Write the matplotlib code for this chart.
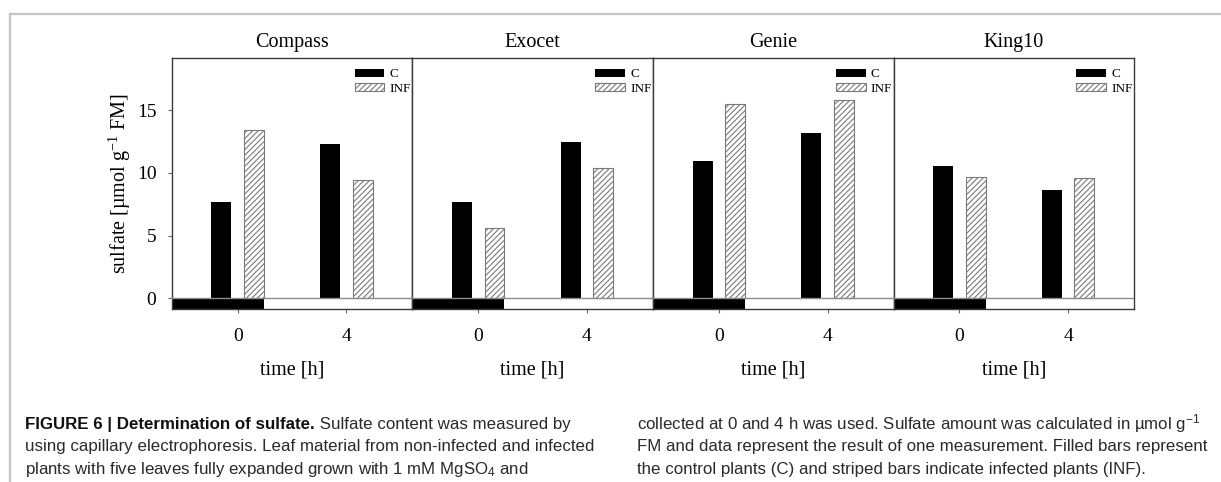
import matplotlib
matplotlib.use("Agg")
import matplotlib.pyplot as plt
from matplotlib import font_manager
from matplotlib.lines import Line2D

# values (sulfate, umol/g FM)
cultivars = ["Compass", "Exocet", "Genie", "King10"]
times = [0, 4]
control = [[7.7, 12.35], [7.7, 12.5], [10.95, 13.2], [10.55, 8.65]]
infected = [[13.45, 9.45], [5.65, 10.4], [15.5, 15.8], [9.7, 9.6]]
yticks = [0, 5, 10, 15]
legend_labels = ["C", "INF"]
y_label = "sulfate [µmol g$\\mathregular{^{-1}}$ FM]"
x_label = "time [h]"

caption_bold = "FIGURE 6 | Determination of sulfate."
caption_left = [
    " Sulfate content was measured by",
    "using capillary electrophoresis. Leaf material from non-infected and infected",
    "plants with five leaves fully expanded grown with 1 mM MgSO$\\mathregular{_4}$ and",
]
caption_right = [
    "collected at 0 and 4 h was used. Sulfate amount was calculated in µmol g$\\mathregular{^{-1}}$",
    "FM and data represent the result of one measurement. Filled bars represent",
    "the control plants (C) and striped bars indicate infected plants (INF).",
]

names = {f.name for f in font_manager.fontManager.ttflist}
serif = "Liberation Serif" if "Liberation Serif" in names else "DejaVu Serif"
sans = "Liberation Sans" if "Liberation Sans" in names else "DejaVu Sans"

plt.rcParams["font.family"] = serif
plt.rcParams["hatch.color"] = "#7a7a7a"
plt.rcParams["hatch.linewidth"] = 0.8

W, H = 1221, 482
fig = plt.figure(figsize=(W / 100, H / 100), dpi=100)

ax_left = 171.7 / W
ax_w = 240.6 / W
ax_bottom = 1 - 309 / H
ax_h = (309 - 58.3) / H

bar_w = 0.73
offset = 0.6
xlim = (-2.43, 6.43)
ylim = (-0.85, 19.15)
spine_col = "#3a3a3a"
fs = 14.5

for i, name in enumerate(cultivars):
    ax = fig.add_axes([ax_left + i * ax_w, ax_bottom, ax_w, ax_h])
    xc = [t - offset for t in times]
    xi = [t + offset for t in times]
    # odd black block under the baseline, as in the original
    ax.bar(xlim[0], ylim[0], width=(times[0] + offset + bar_w / 2) - xlim[0],
           align="edge", color="black", zorder=1)
    c_bars = ax.bar(xc, control[i], width=bar_w, color="black", zorder=2)
    inf_bars = ax.bar(xi, infected[i], width=bar_w, color="white",
                      edgecolor="#7a7a7a", hatch="//////", linewidth=0.8, zorder=2)
    ax.axhline(0, color="#8c8c8c", lw=1.0, zorder=3)
    ax.set_xlim(*xlim)
    ax.set_ylim(*ylim)
    ax.set_xticks(times)
    ax.set_title(name, fontsize=fs, pad=8)
    ax.set_xlabel(x_label, fontsize=fs, labelpad=11)
    ax.tick_params(axis="x", direction="out", length=3, width=0.8,
                   color="#666666", labelsize=14, pad=11)
    if i == 0:
        ax.set_yticks(yticks)
        ax.tick_params(axis="y", direction="out", length=3, width=0.8,
                       color="#666666", labelsize=14, pad=8)
        ax.set_ylabel(y_label, fontsize=fs, labelpad=3)
    else:
        ax.tick_params(axis="y", left=False, labelleft=False)
    for sp in ax.spines.values():
        sp.set_color(spine_col)
        sp.set_linewidth(1.0)
    ax.legend([c_bars, inf_bars], legend_labels, loc="upper right",
              bbox_to_anchor=(1.0, 0.965), frameon=False, fontsize=9.5,
              handlelength=2.25, handleheight=0.55, handletextpad=0.4,
              labelspacing=0.2, borderpad=0, borderaxespad=0.1)

# frame lines around the figure panel
border = "#c4c4c4"
fig.add_artist(Line2D([10 / W, 1], [1 - 14 / H, 1 - 14 / H], color=border, lw=1.6))
fig.add_artist(Line2D([10 / W, 10 / W], [0, 1 - 14 / H], color=border, lw=1.6))

# caption in two columns
cap_size = 12.2
baselines = [429, 451.5, 474]
cap_col = "#2a2a2a"
fig.canvas.draw()
renderer = fig.canvas.get_renderer()
tb = fig.text(25 / W, 1 - baselines[0] / H, caption_bold, family=sans,
              weight="bold", fontsize=cap_size, va="baseline", color="#111111")
bb = tb.get_window_extent(renderer)
for j, line in enumerate(caption_left):
    x = bb.x1 / W if j == 0 else 25 / W
    fig.text(x, 1 - baselines[j] / H, line, family=sans, fontsize=cap_size,
             va="baseline", color=cap_col)
for j, line in enumerate(caption_right):
    fig.text(637 / W, 1 - baselines[j] / H, line, family=sans, fontsize=cap_size,
             va="baseline", color=cap_col)

fig.savefig("out.png", dpi=100)
